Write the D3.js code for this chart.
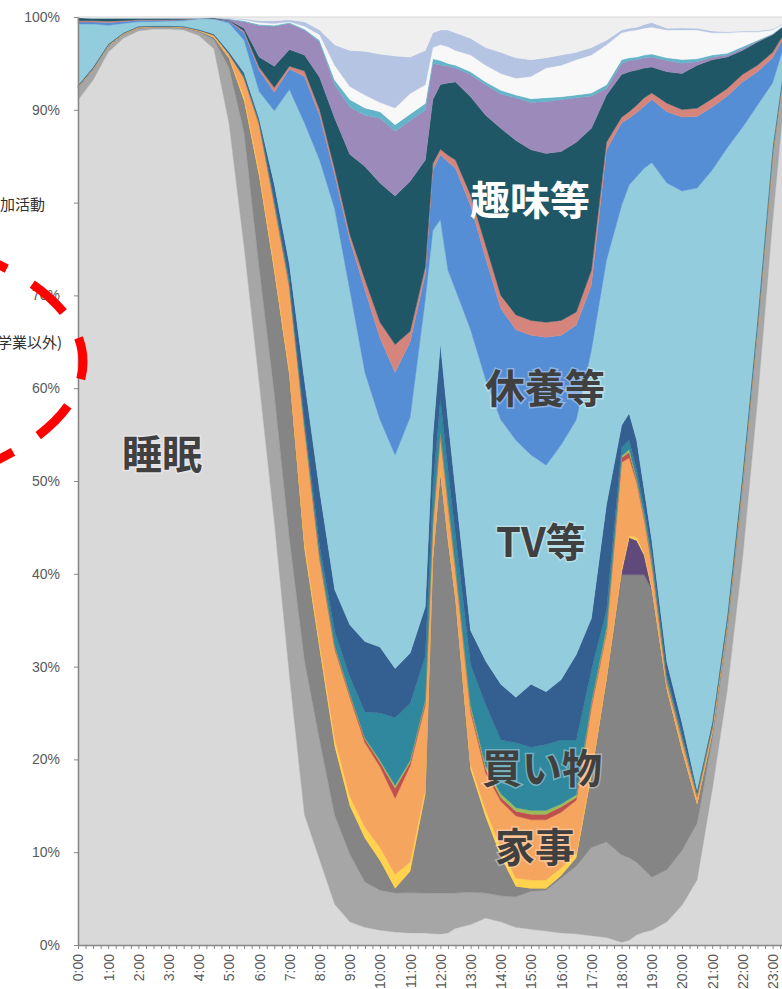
<!DOCTYPE html>
<html lang="ja">
<head>
<meta charset="utf-8">
<script src="https://cdn.jsdelivr.net/npm/d3@7"></script>
<style>
  html, body { margin: 0; padding: 0; background: #ffffff; }
  svg { display: block; }
</style>
</head>
<body>
<svg id="chart" width="782" height="989"></svg>
<script>
// Time slots (hh:mm); finer steps around the lunch and dinner peaks
const times = [
  "0:00","0:30","1:00","1:30","2:00","2:30","3:00","3:30","4:00","4:30",
  "5:00","5:30","6:00","6:30","7:00","7:30","8:00","8:30","9:00","9:30","10:00","10:30","11:00","11:30",
  "11:45","12:00","12:15","12:30",
  "13:00","13:30","14:00","14:30","15:00","15:30","16:00","16:30","17:00","17:30",
  "18:00","18:15","18:30","18:45","19:00",
  "19:30","20:00","20:30","21:00","21:30","22:00","22:30","23:00","23:30"
];

// Share of people doing each activity (%), bottom of the stack first
const sleep = [91.1,93.2,96.2,97.7,98.5,98.7,98.7,98.6,98.0,96.6,
  88.7,75.1,60.3,45.6,29.1,14.0,9.2,4.4,2.5,1.9,1.6,1.4,1.3,1.3,
  1.2,1.2,1.3,1.8,
  2.2,2.9,2.5,1.9,1.7,1.5,1.3,1.2,1.0,0.8,
  0.3,0.5,1.1,1.4,1.6,
  2.5,4.3,7.0,16.7,27.5,41.5,58.7,78.0,95.4];
const personal = [1.3,1.1,0.6,0.4,0.3,0.2,0.2,0.2,0.4,1.0,
  6.0,12.3,12.3,13.8,14.7,16.6,12.9,9.6,7.3,4.9,4.3,4.2,4.3,4.3,
  4.4,4.4,4.3,3.8,
  3.5,2.7,2.8,3.3,4.1,4.4,5.9,7.3,9.5,10.3,
  9.4,8.9,7.8,6.7,5.7,
  5.6,5.9,6.1,5.4,6.4,7.5,7.6,7.0,2.1];
const meals = [0.1,0.1,0.1,0.05,0.05,0.05,0.05,0.05,0.1,0.2,
  1.0,3.4,9.8,13.1,17.5,12.0,9.8,7.4,5.2,4.7,3.2,0.5,2.3,10.6,
  35.9,45.4,38.0,31.6,
  13.2,8.2,4.2,1.1,0.3,0.2,0.3,0.9,7.8,17.5,
  30.2,30.5,31.0,31.8,31.0,
  19.4,10.8,2.0,0.7,0.6,0.6,0.4,0.3,0.1];
const work = [0,0,0,0,0,0,0,0,0,0,
  0,0,0,0,0,0,0,0,0,0,0,0,0,0,
  0,0,0,0,
  0,0,0,0,0,0,0,0,0,0,
  0.3,4.0,3.7,2.1,0.05,
  0,0,0,0,0,0,0,0,0];
const care = [0,0,0,0,0,0,0,0,0,0.1,
  0.1,0.4,0.5,0.5,0.5,0.6,0.6,0.8,1.0,1.2,1.4,1.5,1.0,0.5,
  0.3,0.3,0.4,0.3,
  0.5,0.7,1.0,0.9,0.9,0.9,0.8,0.5,0.3,0.3,
  0.3,0.2,0.3,0.2,0.3,
  0.2,0.2,0.2,0.1,0.1,0.1,0.1,0.05,0];
const housework = [0.1,0.1,0.1,0.1,0.1,0.05,0.05,0.1,0.1,0.2,
  0.4,2.0,5.0,6.7,9.0,12.3,9.1,9.7,10.7,9.1,8.7,8.2,10.3,9.1,
  3.5,3.7,3.4,2.9,
  5.7,4.0,5.0,6.7,6.5,6.5,6.0,5.7,7.0,4.7,
  11.5,8.4,5.9,3.6,2.3,
  0.5,0.9,0.6,0.4,0.3,0.3,0.2,0.2,0.1];
const childcare = [0,0,0,0,0,0,0,0,0,0,
  0,0.1,0.2,0.2,0.2,0.3,0.3,0.3,0.3,0.4,0.5,1.1,0.4,0.4,
  0.3,0.3,0.3,0.3,
  0.4,0.5,0.4,0.5,0.6,0.6,0.6,0.3,0.4,0.3,
  0.5,0.6,0.3,0.3,0.4,
  0.2,0.2,0.2,0.1,0.1,0.1,0.05,0.05,0];
const commute = [0,0,0,0,0,0,0,0,0,0,
  0,0,0.1,0.1,0.1,0.1,0.1,0.1,0.1,0.1,0.2,0.3,0.2,0.2,
  0.2,0.2,0.3,0.2,
  0.3,0.3,0.4,0.4,0.4,0.4,0.3,0.3,0.2,0.3,
  0.2,0.3,0.2,0.2,0.2,
  0.2,0.1,0.1,0.1,0.05,0.05,0.05,0.05,0];
const shopping = [0,0,0,0,0,0,0,0,0,0,
  0,0.1,0.1,0.3,0.5,0.6,1.0,1.5,1.8,2.8,5.1,7.3,6.1,4.7,
  3.5,3.5,3.2,3.3,
  4.4,6.6,5.8,7.0,6.8,7.1,6.9,5.9,3.4,1.9,
  0.9,1.0,0.9,0.8,0.7,
  0.5,0.4,0.2,0.2,0.15,0.15,0.1,0.05,0];
const travel = [0.1,0.1,0.1,0.05,0.05,0.05,0.05,0.05,0.05,0.1,
  0.2,0.4,0.3,1.6,1.7,4.2,6.0,4.5,5.6,7.6,7.1,5.3,5.4,5.3,
  5.5,6.0,5.4,4.8,
  3.7,4.7,6.0,4.9,6.8,5.7,6.5,9.2,5.6,11.4,
  2.4,2.9,3.2,1.9,1.4,
  1.4,1.2,0.3,0.3,0.4,0.4,0.3,0.2,0.1];
const tv = [6.6,4.65,2.0,1.0,0.5,0.45,0.5,0.6,1.15,1.6,
  3.1,3.5,2.9,7.9,18.8,27.7,35.6,41.0,36.1,29.0,24.5,23.0,25.3,33.1,
  22.2,13.4,16.1,21.6,
  32.4,30.3,28.5,27.7,24.7,24.4,25.3,25.3,28.9,26.3,
  23.7,24.6,28.4,34.7,40.7,
  51.6,57.4,64.7,59.5,50.3,37.4,23.0,7.0,0.6];
const rest = [0.2,0.2,0.3,0.2,0.15,0.15,0.1,0.1,0.05,0.05,
  0.2,0.8,2.3,2.0,2.2,5.0,4.8,3.7,5.4,8.9,8.8,8.9,8.1,2.7,
  6.5,7.0,11.7,13.1,
  13.4,13.1,12.0,11.9,12.9,13.8,11.8,10.2,7.0,11.9,
  8.9,7.2,6.9,6.7,6.8,
  7.7,8.0,7.7,6.8,5.6,4.9,3.6,2.7,0.4];
const study = [0.15,0.15,0.15,0.1,0.05,0.05,0.05,0.05,0,0.02,
  0.05,0.2,0.3,0.5,0.3,0.6,0.6,0.6,0.6,1.1,1.7,3.0,1.1,0.8,
  0.7,0.6,0.7,0.9,
  1.1,1.4,1.4,1.6,1.6,1.6,1.6,1.4,1.6,0.8,
  0.6,0.7,0.8,0.9,0.7,
  0.9,0.8,0.9,0.9,0.8,0.8,0.7,0.6,0.2];
const hobby = [0.3,0.3,0.35,0.3,0.2,0.2,0.2,0.15,0.05,0.05,
  0.05,0.3,1.1,2.3,1.8,1.7,3.5,5.5,8.6,12.2,15.0,16.0,16.1,11.5,
  6.9,7.0,7.8,8.4,
  10.6,14.0,18.0,18.8,18.4,18.2,18.2,18.3,15.3,5.1,
  4.6,4.3,3.8,3.2,2.8,
  3.4,3.9,4.6,4.2,3.4,2.6,2.5,1.9,0.5];
const sports = [0.05,0,0,0,0,0,0,0,0,0.05,
  0.1,0.7,3.4,4.3,2.8,2.7,3.8,3.6,5.1,5.5,7.0,7.0,6.5,5.4,
  3.9,2.1,1.8,1.5,
  2.4,3.3,3.7,4.6,5.1,5.6,5.6,4.8,3.5,0.7,
  1.2,1.2,1.1,1.1,1.1,
  1.2,1.1,0.4,0.3,0.2,0.2,0.1,0.05,0.05];
const volunteer = [0,0,0,0,0,0,0,0,0,0,
  0.05,0.1,0.1,0.1,0.1,0.1,0.2,0.5,0.8,0.8,0.7,0.7,0.7,0.7,
  0.5,0.5,0.3,0.3,
  0.3,0.3,0.4,0.3,0.4,0.4,0.3,0.3,0.3,0.4,
  0.4,0.3,0.3,0.3,0.3,
  0.3,0.4,0.3,0.2,0.2,0.2,0.1,0.05,0.05];
const social = [0,0,0,0,0,0,0,0,0,0,
  0.05,0.1,0.2,0.2,0.1,0.3,0.6,1.6,1.4,1.4,1.0,1.8,2.2,2.0,
  1.2,1.7,1.8,1.6,
  1.8,1.8,1.8,1.8,2.4,3.2,3.4,3.8,4.1,4.3,
  2.9,2.9,2.9,2.9,2.9,
  3.0,3.2,3.1,2.4,2.2,1.6,0.9,0.4,0.1];
const medical = [0,0,0,0,0,0,0,0,0,0,
  0.05,0.1,0.2,0.3,0.2,0.5,0.5,2.2,3.9,4.7,5.2,5.6,3.9,3.7,
  1.6,1.6,1.8,1.9,
  1.8,1.9,2.3,2.2,1.8,1.1,1.1,0.8,0.8,0.5,
  0.3,0.3,0.3,0.4,0.5,
  0.2,0.2,0.2,0.2,0.1,0.1,0.1,0.1,0.05];
const other = [0.05,0.1,0.1,0.1,0.1,0.1,0.1,0.1,0.1,0.05,
  0.1,0.2,0.4,0.4,0.3,0.5,1.4,3.0,3.6,3.7,4.0,4.2,4.3,3.6,
  1.7,1.4,1.4,1.7,
  2.3,3.3,3.8,4.4,4.6,4.4,4.1,3.8,3.3,2.5,
  1.4,1.2,1.1,0.8,0.6,
  1.2,1.2,1.2,1.5,1.6,1.5,1.5,1.3,0.4];

// Hour tick labels on the time axis
const hourLabels = d3.range(0, 24).map(h => `${h}:00`);
// Percent tick labels (the 80% one sits under the legend text, so it is left blank)
const percentTicks = d3.range(0, 11).map(i => i / 10);
const percentLabels = ["0%","10%","20%","30%","40%","50%","60%","70%","","90%","100%"];

const layers = [
  { key: "睡眠", color: "#d9d9d9", values: sleep },
  { key: "身の回りの用事", color: "#a6a6a6", values: personal },
  { key: "食事", color: "#858585", values: meals },
  { key: "仕事", color: "#604a7b", values: work },
  { key: "介護・看護", color: "#ffd34e", values: care },
  { key: "家事", color: "#f6a55f", values: housework },
  { key: "育児", color: "#c0504d", values: childcare },
  { key: "通勤・通学", color: "#9bbb59", values: commute },
  { key: "買い物", color: "#2f889d", values: shopping },
  { key: "移動", color: "#335f91", values: travel },
  { key: "テレビ・ラジオ・新聞・雑誌", color: "#93cddd", values: tv },
  { key: "休養・くつろぎ", color: "#558ed5", values: rest },
  { key: "学習・自己啓発・訓練（学業以外）", color: "#d6857d", values: study },
  { key: "趣味・娯楽", color: "#205766", values: hobby },
  { key: "スポーツ", color: "#9c8aba", values: sports },
  { key: "ボランティア活動・社会参加活動", color: "#63b4c9", values: volunteer },
  { key: "交際・付き合い", color: "#f8f8f8", values: social },
  { key: "受診・療養", color: "#b5c4e2", values: medical },
  { key: "その他", color: "#efefef", values: other }
];

const toHour = t => { const [h, m] = t.split(":").map(Number); return h + m / 60; };

const rows = times.map((t, i) => {
  const r = { hour: toHour(t) };
  layers.forEach(l => { r[l.key] = l.values[i]; });
  return r;
});

const stacked = d3.stack()
  .keys(layers.map(l => l.key))
  .offset(d3.stackOffsetExpand)(rows);

const svg = d3.select("#chart");
const plotLeft = 78, plotTop = 17, plotBottom = 945, hourWidth = 30.2;

const x = d3.scaleLinear().domain([0, 24]).range([plotLeft, plotLeft + hourWidth * 24]);
const y = d3.scaleLinear().domain([0, 1]).range([plotBottom, plotTop]);

const area = d3.area()
  .x(d => x(d.data.hour))
  .y0(d => y(d[0]))
  .y1(d => y(d[1]));

// Stacked areas
svg.append("g")
  .selectAll("path")
  .data(stacked)
  .join("path")
  .attr("d", area)
  .attr("fill", (d, i) => layers[i].color)
  .attr("stroke", (d, i) => layers[i].color)
  .attr("stroke-width", 0.4);

// Plot frame line along the top
svg.append("line")
  .attr("x1", plotLeft).attr("x2", 782)
  .attr("y1", plotTop).attr("y2", plotTop)
  .attr("stroke", "#d9d9d9").attr("stroke-width", 1);

const axisFont = "'Liberation Sans', Arial, sans-serif";

// Percent axis
const yAxis = svg.append("g")
  .attr("transform", `translate(${plotLeft},0)`)
  .call(d3.axisLeft(y).tickValues(percentTicks)
    .tickFormat((d, i) => percentLabels[i])
    .tickSize(4).tickSizeOuter(0).tickPadding(14));
yAxis.select(".domain").attr("stroke", "#868686").attr("stroke-width", 1.5);
yAxis.selectAll(".tick line").attr("stroke", "#868686");
yAxis.selectAll("text").attr("fill", "#595959").style("font-family", axisFont).style("font-size", "14px");

// Time axis: a tick every 15 minutes, a label every hour
const xAxis = svg.append("g")
  .attr("transform", `translate(0,${plotBottom})`)
  .call(d3.axisBottom(x)
    .tickValues(d3.range(0, 96).map(i => i / 4))
    .tickFormat(d => Number.isInteger(d) ? hourLabels[d] : "")
    .tickSize(4).tickSizeOuter(0));
xAxis.select(".domain").attr("stroke", "#868686").attr("stroke-width", 1.5);
xAxis.selectAll(".tick line").attr("stroke", "#868686");
xAxis.selectAll("text")
  .attr("fill", "#595959")
  .style("font-family", axisFont).style("font-size", "14px")
  .attr("transform", "rotate(-90)")
  .attr("text-anchor", "end")
  .attr("x", -9).attr("y", 0).attr("dy", "0.35em");

// Activity labels placed inside their bands
const bandLabels = [
  { text: "睡眠", x: 162, y: 452, color: "#404040" },
  { text: "趣味等", x: 530, y: 198, color: "#ffffff" },
  { text: "休養等", x: 545, y: 386, color: "#404040" },
  { text: "TV等", x: 541, y: 540, color: "#404040" },
  { text: "買い物", x: 542, y: 766, color: "#404040" },
  { text: "家事", x: 535, y: 845, color: "#404040" }
];
svg.append("g")
  .selectAll("text")
  .data(bandLabels)
  .join("text")
  .attr("x", d => d.x).attr("y", d => d.y)
  .attr("text-anchor", "middle")
  .attr("dominant-baseline", "central")
  .attr("fill", d => d.color)
  .attr("stroke", d => d.color === "#ffffff" ? "none" : "rgba(255,255,255,0.35)")
  .attr("stroke-width", 3)
  .style("paint-order", "stroke")
  .style("font-family", "'Noto Sans CJK JP', sans-serif")
  .style("font-weight", "700")
  .style("font-size", "40px")
  .text(d => d.text);

// Legend entries running in from the left edge
const legendItems = [
  { text: "ボランティア活動・社会参加活動", x: 45, y: 203 },
  { text: "学習・自己啓発・訓練(学業以外)", x: 62, y: 341 }
];
svg.append("g")
  .selectAll("text")
  .data(legendItems)
  .join("text")
  .attr("x", d => d.x).attr("y", d => d.y)
  .attr("text-anchor", "end")
  .attr("dominant-baseline", "central")
  .attr("fill", "#303030")
  .style("font-family", "'Noto Sans CJK JP', sans-serif")
  .style("font-size", "15px")
  .text(d => d.text);

// Red dashed ring around the legend
const cx = -217, cy = 362, rx = 300, ry = 140;
const ring = svg.append("path")
  .attr("d", `M ${cx - rx} ${cy} A ${rx} ${ry} 0 1 1 ${cx + rx} ${cy} A ${rx} ${ry} 0 1 1 ${cx - rx} ${cy}`)
  .attr("fill", "none")
  .attr("stroke", "#ff0000")
  .attr("stroke-width", 9)
  .attr("stroke-dasharray", "42 30");
const half = ring.node().getTotalLength() / 2;
ring.attr("stroke-dashoffset", (((25 - half) % 72) + 72) % 72);
</script>
</body>
</html>
